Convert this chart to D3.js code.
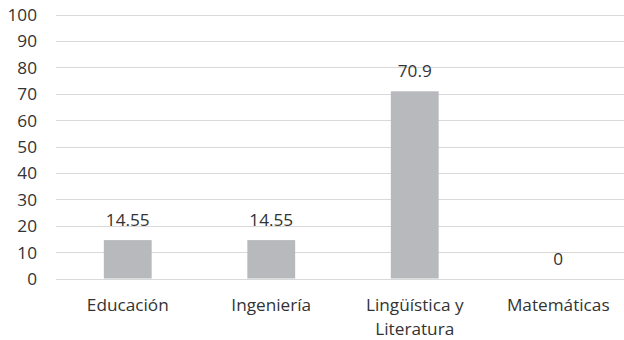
<!DOCTYPE html>
<html><head><meta charset="utf-8">
<script src="https://cdn.jsdelivr.net/npm/d3@7"></script>
<style>body{margin:0;background:#fff}svg{display:block}</style>
</head><body><svg id="c" width="624" height="340"></svg>
<script>
const categories = ["Educación", "Ingeniería", "Lingüística y Literatura", "Matemáticas"];
const categoryLines = [["Educación"], ["Ingeniería"], ["Lingüística y", "Literatura"], ["Matemáticas"]];
const values = [14.55, 14.55, 70.9, 0];
const valueLabels = ["14.55", "14.55", "70.9", "0"];
const yTicks = [0, 10, 20, 30, 40, 50, 60, 70, 80, 90, 100];

const svg = d3.select("#c");
const font = "'Open Sans', sans-serif";
const fs = 17.2;
const textColor = "#333333";
const x = d3.scaleBand().domain(categories).range([56, 630]).paddingInner(2/3).paddingOuter(1/3);
const y = d3.scaleLinear().domain([0, 100]).range([278.5, 14.5]);

// gridlines
svg.append("g").selectAll("line").data(yTicks).join("line")
  .attr("x1", 56).attr("x2", 624)
  .attr("y1", d => Math.round(y(d)) + 0.5).attr("y2", d => Math.round(y(d)) + 0.5)
  .attr("stroke", "#d9d9d9").attr("stroke-width", 1);

// y axis labels
const yAxis = d3.axisLeft(y).tickValues(yTicks).tickSize(0).tickPadding(0);
const ya = svg.append("g").attr("transform", "translate(37,0)").call(yAxis);
ya.select(".domain").remove();
ya.selectAll("text").attr("font-family", font).attr("font-size", fs).attr("fill", textColor).attr("dy", "0.35em");

// bars
svg.append("g").selectAll("rect").data(values).join("rect")
  .attr("x", (d, i) => x(categories[i]))
  .attr("width", x.bandwidth())
  .attr("y", d => y(d))
  .attr("height", d => y(0) - y(d))
  .attr("fill", "#b8b9bc");

// value labels
svg.append("g").selectAll("text").data(values).join("text")
  .attr("x", (d, i) => x(categories[i]) + x.bandwidth() / 2)
  .attr("y", d => y(d) - 14)
  .attr("text-anchor", "middle")
  .attr("font-family", font).attr("font-size", fs).attr("fill", textColor)
  .text((d, i) => valueLabels[i]);

// category labels
const xg = svg.append("g");
categories.forEach((c, i) => {
  const t = xg.append("text")
    .attr("text-anchor", "middle")
    .attr("font-family", font).attr("font-size", fs).attr("fill", textColor);
  categoryLines[i].forEach((ln, j) => {
    t.append("tspan").attr("x", x(c) + x.bandwidth() / 2).attr("y", 311 + j * 24).text(ln);
  });
});
</script></body></html>
